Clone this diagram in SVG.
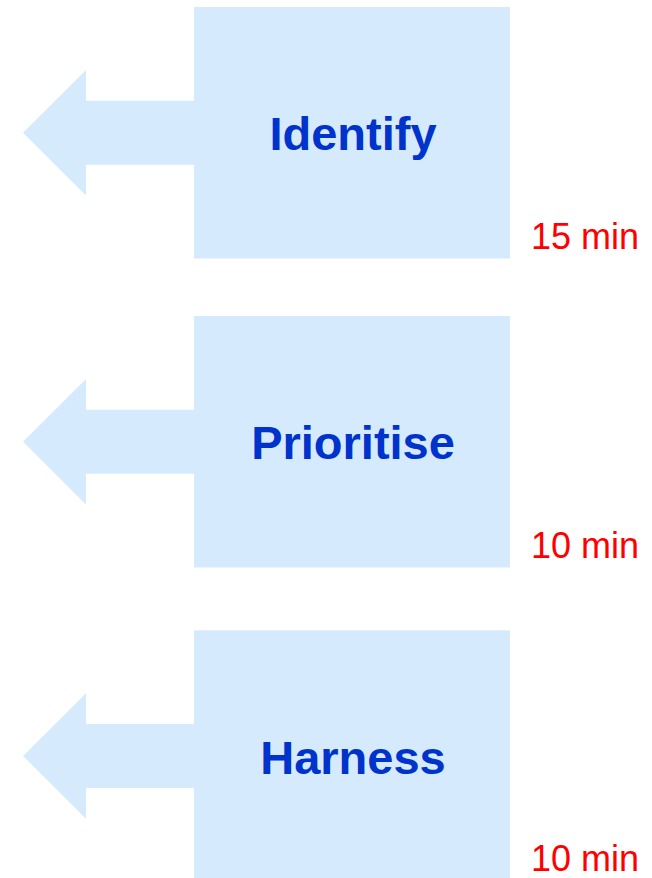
<svg xmlns="http://www.w3.org/2000/svg" width="652" height="878" viewBox="0 0 652 878">
<style>
.shape{fill:#D5EBFD;}
.label{font-family:"Liberation Sans",Arial,sans-serif;font-weight:bold;font-size:47px;fill:#0033CC;text-anchor:middle;}
.time{font-family:"Liberation Sans",Arial,sans-serif;font-size:36px;fill:#FF0000;}
</style>
<defs>
<path id="arrowbox" d="M158,-125.8 H-158 V-32 H-266 V-62.8 L-329,0 L-266,62.8 V32 H-158 V125.8 H158 Z"/>
</defs>
<rect width="652" height="878" fill="#FFFFFF"/>
<g id="connectors"></g>
<g id="identify">
<use href="#arrowbox" class="shape" transform="translate(352,132.8)"/>
<text class="label" x="353" y="150">Identify</text>
<text class="time" x="531" y="249">15 min</text>
</g>
<g id="prioritise">
<use href="#arrowbox" class="shape" transform="translate(352,441.8)"/>
<text class="label" x="353" y="459">Prioritise</text>
<text class="time" x="531" y="558">10 min</text>
</g>
<g id="harness">
<use href="#arrowbox" class="shape" transform="translate(352,756)"/>
<text class="label" x="353" y="774">Harness</text>
<text class="time" x="531" y="871">10 min</text>
</g>
</svg>
